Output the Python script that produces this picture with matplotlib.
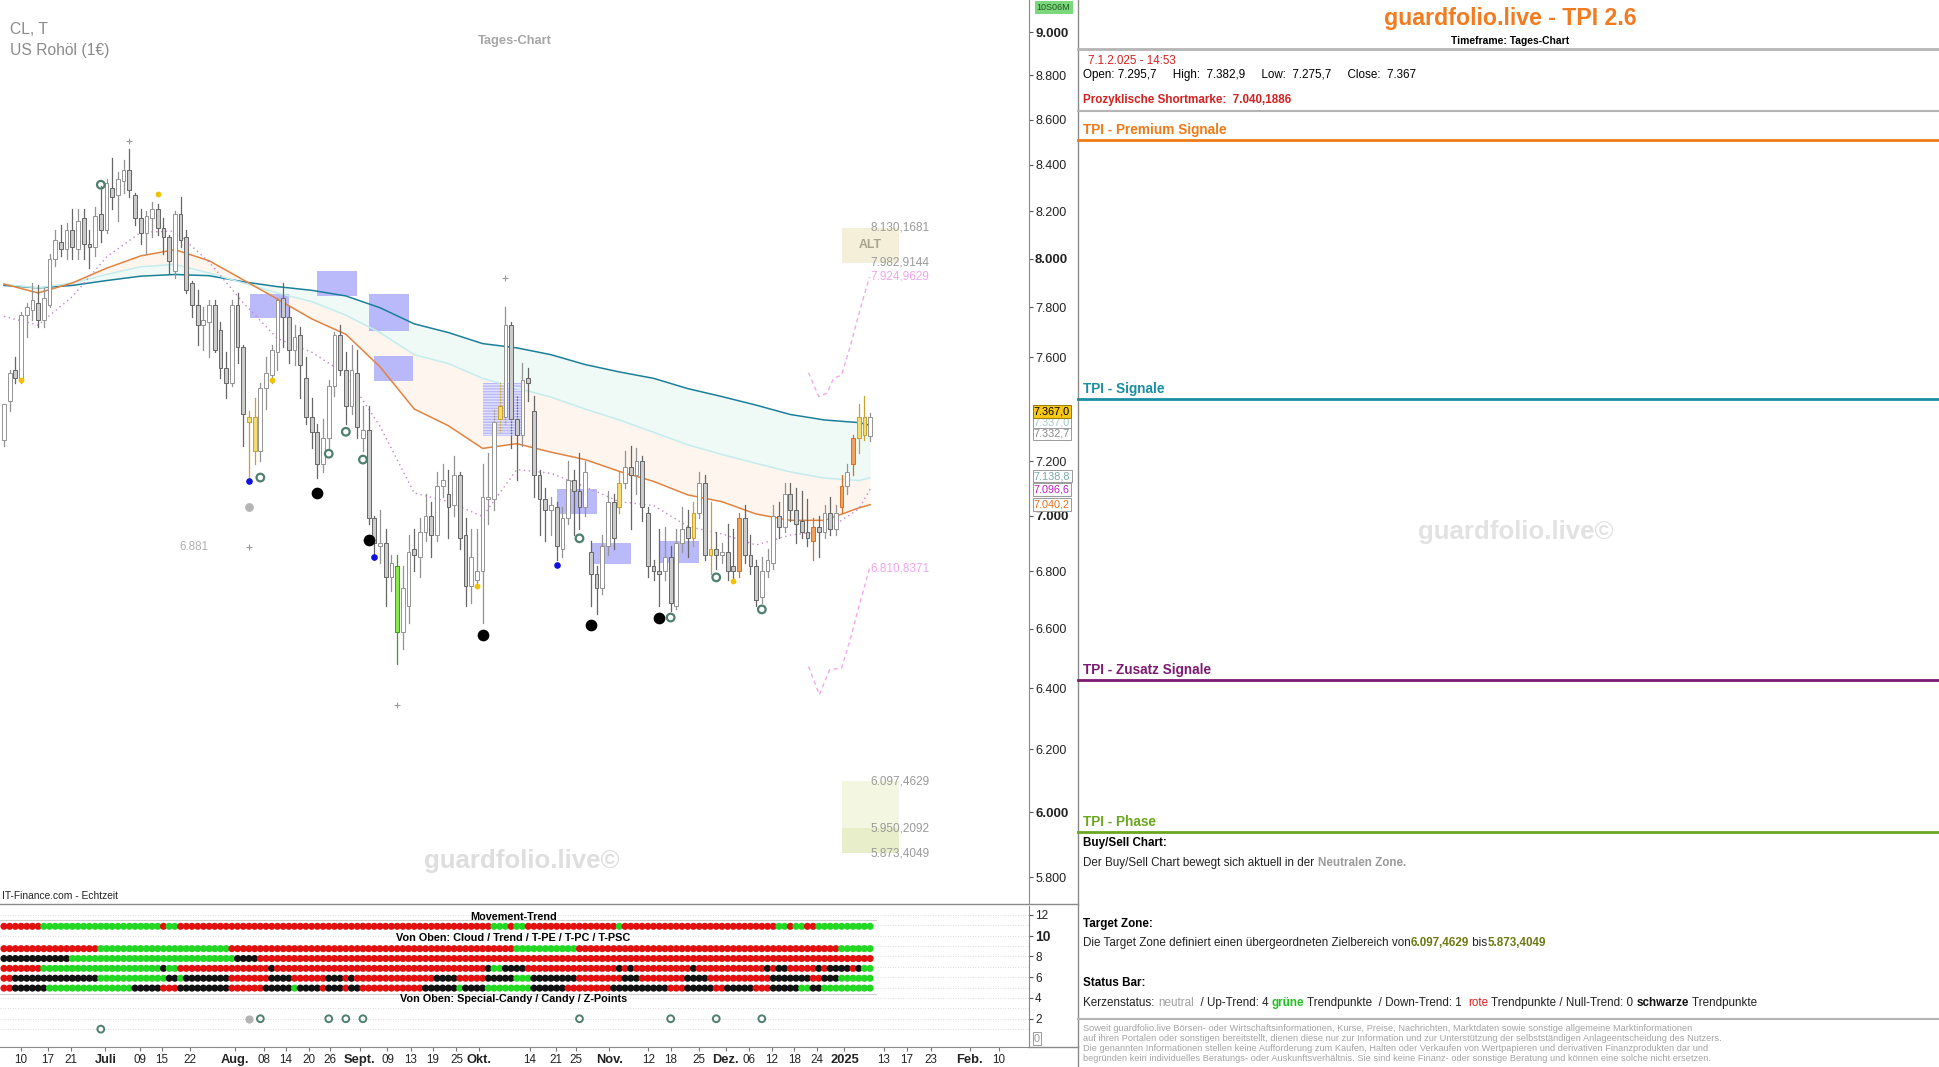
import numpy as np
import matplotlib
matplotlib.use('Agg')
import matplotlib.pyplot as plt
from matplotlib import font_manager as fm
from matplotlib.patches import Rectangle
from matplotlib.lines import Line2D

# pick a condensed sans if the system has one
names = {f.name for f in fm.fontManager.ttflist}
NARROW = 'Liberation Sans Narrow' if 'Liberation Sans Narrow' in names else 'Liberation Sans'
FS = 0.98
plt.rcParams['font.family'] = [NARROW, 'DejaVu Sans']

#---------------------------------------#
# DATA (daily candles, US crude, index 0 = first bar)
#---------------------------------------#
opens = [7280, 7430, 7550, 7510, 7770, 7790, 7820, 7750, 7810, 8000,
         8070, 8040, 8120, 8040, 8170, 8060, 8050, 8190, 8120, 8300,
         8270, 8330, 8380, 8270, 8170, 8110, 8170, 8210, 8130, 8090,
         7950, 8190, 8090, 7900, 7810, 7730, 7740, 7810, 7710, 7560,
         7500, 7810, 7640, 7370, 7370, 7240, 7480, 7530, 7620, 7840,
         7760, 7630, 7690, 7520, 7370, 7310, 7190, 7290, 7490, 7690,
         7550, 7410, 7540, 7290, 7320, 6990, 6890, 6900, 6780, 6820,
         6590, 6680, 6880, 6850, 6940, 7000, 6930, 7110, 7080, 7040,
         7150, 6930, 6750, 6770, 6800, 7060, 7060, 7360, 7370, 7730,
         7360, 7300, 7520, 7390, 7150, 7060, 7020, 7030, 6880, 6990,
         7130, 7090, 7030, 6870, 6790, 6740, 6890, 7050, 7030, 7120,
         7180, 7150, 7200, 7010, 6820, 6800, 6800, 6850, 6680, 6900,
         6960, 6920, 7010, 7120, 6860, 6880, 6860, 6870, 6820, 6800,
         6990, 6860, 6820, 6710, 6800, 6830, 7000, 6960, 7080, 7020,
         6980, 6940, 6910, 6960, 6940, 7010, 6950, 7030, 7110, 7190,
         7290, 7300, 7295.7]
highs = [7420, 7550, 7600, 7780, 7820, 7900, 7890, 7880, 8020, 8120,
         8140, 8150, 8210, 8210, 8210, 8120, 8220, 8310, 8340, 8430,
         8370, 8420, 8470, 8280, 8210, 8200, 8240, 8230, 8170, 8100,
         8200, 8260, 8120, 7910, 7870, 7800, 7830, 7830, 7740, 7620,
         7830, 7860, 7650, 7390, 7440, 7500, 7600, 7650, 7840, 7900,
         7800, 7730, 7720, 7600, 7440, 7340, 7360, 7510, 7700, 7730,
         7620, 7650, 7630, 7410, 7410, 7000, 7020, 6950, 6860, 6860,
         6820, 6930, 6950, 6990, 7080, 7050, 7160, 7190, 7170, 7220,
         7160, 6990, 6950, 6950, 7190, 7230, 7400, 7500, 7800, 7740,
         7450, 7580, 7560, 7450, 7170, 7100, 7070, 7050, 7030, 7200,
         7170, 7230, 7200, 6910, 6820, 6930, 7090, 7080, 7160, 7240,
         7260, 7250, 7220, 7030, 6840, 6950, 6960, 6890, 6950, 7030,
         7020, 7050, 7160, 7150, 7050, 6940, 6900, 6970, 6950, 7010,
         7040, 6930, 6840, 6850, 6880, 7040, 7050, 7120, 7120, 7100,
         7090, 7060, 6990, 7000, 7040, 7070, 7040, 7150, 7190, 7300,
         7420, 7450, 7382.9]
lows = [7260, 7390, 7500, 7500, 7680, 7750, 7720, 7720, 7800, 7970,
        8010, 8000, 8000, 8000, 8000, 7960, 8010, 8070, 8110, 8210,
        8160, 8280, 8260, 8140, 8060, 8020, 8090, 8100, 8020, 7940,
        7920, 8050, 7860, 7760, 7650, 7630, 7600, 7620, 7520, 7440,
        7490, 7580, 7260, 7130, 7190, 7200, 7400, 7500, 7550, 7640,
        7580, 7570, 7440, 7340, 7250, 7140, 7160, 7250, 7450, 7530,
        7340, 7380, 7290, 7240, 6970, 6840, 6830, 6680, 6730, 6480,
        6530, 6620, 6800, 6780, 6910, 6850, 6910, 7070, 6920, 7000,
        6880, 6680, 6690, 6740, 6620, 6970, 7020, 7310, 7340, 7250,
        7130, 7260, 7430, 7070, 6930, 6910, 6930, 6840, 6850, 6970,
        6930, 6950, 7000, 6680, 6650, 6720, 6860, 6880, 7010, 7100,
        6950, 7080, 6980, 6780, 6770, 6680, 6770, 6660, 6670, 6870,
        6850, 6890, 6990, 6840, 6790, 6810, 6830, 6770, 6770, 6780,
        6830, 6790, 6680, 6690, 6780, 6810, 6920, 6940, 6980, 6900,
        6920, 6890, 6840, 6850, 6920, 6930, 6930, 7010, 7080, 7150,
        7230, 7280, 7275.7]
closes = [7420, 7540, 7520, 7770, 7800, 7830, 7750, 7840, 8000, 8080,
          8040, 8120, 8050, 8160, 8060, 8050, 8180, 8120, 8320, 8260,
          8340, 8380, 8290, 8170, 8110, 8180, 8210, 8130, 8090, 7990,
          8190, 8080, 7870, 7810, 7730, 7750, 7810, 7630, 7560, 7500,
          7810, 7640, 7380, 7350, 7240, 7480, 7540, 7630, 7830, 7760,
          7630, 7680, 7570, 7370, 7310, 7190, 7290, 7490, 7690, 7550,
          7410, 7550, 7330, 7320, 6990, 6900, 6900, 6780, 6830, 6590,
          6740, 6870, 6860, 6940, 7000, 6930, 7110, 7130, 7030, 7150,
          6920, 6750, 6850, 6800, 7070, 7070, 7350, 7410, 7730, 7360,
          7300, 7510, 7500, 7150, 7060, 7020, 7040, 6890, 6990, 7130,
          7090, 7030, 7160, 6790, 6740, 6890, 7050, 6920, 7120, 7180,
          7150, 7200, 7030, 6820, 6800, 6790, 6850, 6690, 6900, 6950,
          6920, 7010, 7120, 6860, 6880, 6860, 6870, 6800, 6800, 6990,
          6860, 6820, 6700, 6800, 6840, 7000, 6960, 7080, 7020, 6970,
          6940, 6920, 6960, 6940, 7010, 6950, 7010, 7110, 7160, 7290,
          7370, 7370, 7367.0]

# bars drawn in a signal colour instead of white / grey
yellow_bars = [43, 44, 87, 108, 121, 124, 150, 151]
orange_bars = [129, 142, 147, 149]
green_bars = [69]

# moving averages read every 6 bars
line_idx = list(range(0, 151, 6)) + [152]
teal_ma = [7890, 7880, 7890, 7910, 7928, 7935, 7930, 7905, 7885, 7870, 7847, 7799, 7734, 7699,
           7655, 7638, 7611, 7572, 7543, 7518, 7478, 7447, 7414, 7378, 7357, 7347, 7337]
cyan_ma = [7895, 7880, 7900, 7935, 7967, 7977, 7941, 7900, 7859, 7824, 7769, 7699, 7611, 7576,
           7518, 7480, 7445, 7399, 7357, 7310, 7263, 7226, 7193, 7161, 7138, 7129, 7139]
orange_ma = [7896, 7859, 7900, 7961, 8012, 8038, 7992, 7913, 7834, 7754, 7692, 7563, 7399, 7335,
             7249, 7267, 7235, 7207, 7163, 7126, 7076, 7051, 7006, 6983, 6983, 7028, 7040]
pink_stop = [7764, 7729, 7844, 8007, 8111, 8116, 7987, 7819, 7675, 7621, 7534, 7333, 7083, 7051,
             6997, 7170, 7156, 7106, 7051, 7037, 6961, 6934, 6894, 6930, 6943, 7024, 7097]

# projection paths
proj_up_idx = [141.2, 143.0, 144.4, 145.6, 147.0, 148.5, 150.2, 151.9]
proj_up = [7540, 7447, 7460, 7518, 7531, 7643, 7789, 7925]
proj_dn_idx = [141.2, 143.1, 144.9, 147.0, 148.5, 150.2, 151.9]
proj_dn = [6472, 6378, 6461, 6467, 6563, 6689, 6811]

# signal zones (start bar, end bar, low, high)
zone_start = [43.1, 54.9, 64.1, 64.9, 84.1, 97.0, 103.0, 115.0]
zone_end = [50.1, 61.9, 71.1, 71.8, 90.8, 104.0, 110.0, 121.9]
zone_low = [7759, 7847, 7704, 7508, 7295, 7006, 6827, 6831]
zone_high = [7854, 7948, 7854, 7606, 7499, 7097, 6903, 6907]

alt_zone = [7982.9144, 8130.1681]
target_zone = [6097.4629, 5950.2092, 5873.4049]
proj_up_end = 7924.9629
proj_dn_end = 6810.8371

# chart markers
ring_idx = [17, 45, 57, 60, 63, 101, 117, 125, 133]
ring_px = [8314, 7140, 7229, 7312, 7207, 6918, 6639, 6779, 6667]
ring_level = [1, 2, 2, 2, 2, 2, 2, 2, 2]
black_idx = [55, 64, 84, 103, 115]
black_px = [7084, 6911, 6580, 6613, 6639]
blue_idx = [43, 65, 97]
blue_px = [7126, 6850, 6823]
yellow_idx = [3, 27, 47, 83, 128]
yellow_px = [7511, 8274, 7512, 6749, 6768]
plus_idx = [22, 88, 69, 43]
plus_px = [8506, 7920, 6343, 6886]
grey_idx = 43
grey_px = 7030

# status bar rows (colour, number of bars)
row_movement = [('r', 7), ('g', 21), ('r', 1), ('g', 2), ('r', 55), ('g', 3), ('r', 1), ('g', 2),
                ('r', 16), ('g', 1), ('r', 27), ('g', 2), ('r', 1), ('g', 2), ('r', 2), ('g', 10)]
row_cloud = [('r', 17), ('g', 23), ('r', 50), ('g', 11), ('r', 46), ('g', 6)]
row_trend = [('k', 12), ('g', 29), ('k', 4), ('r', 108)]
row_tpe = [('r', 7), ('g', 21), ('k', 1), ('g', 2), ('r', 16), ('k', 1), ('r', 37), ('k', 1),
           ('g', 2), ('k', 4), ('r', 16), ('k', 1), ('r', 1), ('k', 1), ('r', 10), ('k', 1),
           ('r', 12), ('k', 1), ('r', 1), ('k', 2), ('r', 5), ('k', 1), ('r', 1), ('k', 4),
           ('r', 1), ('k', 1), ('g', 2)]
row_tpc = [('r', 2), ('k', 15), ('g', 12), ('k', 2), ('g', 1), ('k', 8), ('r', 7), ('k', 4),
           ('r', 6), ('k', 3), ('r', 1), ('k', 1), ('r', 14), ('k', 4), ('r', 5), ('k', 5),
           ('g', 3), ('k', 8), ('r', 8), ('k', 3), ('r', 8), ('k', 4), ('r', 11), ('k', 7),
           ('r', 2), ('k', 3), ('g', 6)]
row_tpsc = [('r', 2), ('k', 6), ('g', 15), ('k', 5), ('r', 3), ('k', 9), ('r', 6), ('k', 5),
            ('g', 1), ('k', 4), ('r', 1), ('k', 3), ('r', 1), ('k', 2), ('r', 11), ('k', 6),
            ('g', 1), ('k', 4), ('g', 8), ('k', 6), ('r', 8), ('k', 10), ('r', 3), ('k', 5),
            ('r', 2), ('k', 5), ('r', 3), ('k', 5), ('g', 2), ('k', 2), ('g', 9)]

# date axis
date_pos = [3, 7.7, 11.8, 17.8, 23.9, 27.7, 32.7, 40.6, 45.6, 49.5, 53.5, 57.2, 62.4, 67.3,
            71.4, 75.3, 79.4, 83.4, 92.3, 96.8, 100.4, 106.2, 113.1, 117, 122, 126.7, 130.8,
            134.8, 138.7, 142.6, 147.5, 154.4, 158.5, 162.6, 169.5, 174.6]
date_lbl = ['10', '17', '21', 'Juli', '09', '15', '22', 'Aug.', '08', '14', '20', '26', 'Sept.',
            '09', '13', '19', '25', 'Okt.', '14', '21', '25', 'Nov.', '12', '18', '25', 'Dez.',
            '06', '12', '18', '24', '2025', '13', '17', '23', 'Feb.', '10']
month_lbl = ['Juli', 'Aug.', 'Sept.', 'Okt.', 'Nov.', 'Dez.', '2025', 'Feb.']


#---------------------------------------#
# LAYOUT HELPERS (positions measured on a 1568 x 863 preview)
#---------------------------------------#
def fx(x):
    return x / 1568.0

def fy(y):
    return 1 - y / 863.0

def de(v, dec=0):
    # german number format 7.367,0
    s = f"{v:,.{dec}f}"
    return s.replace(',', 'X').replace('.', ',').replace('X', '.')

def expand(runs):
    out = []
    for c, n in runs:
        out += [c] * n
    return out

fig = plt.figure(figsize=(19.39, 10.67), dpi=100)
renderer = fig.canvas.get_renderer()

def chain_text(x, y, parts, size):
    # write coloured pieces one after another on one line
    for s, c, w in parts:
        t = fig.text(x, y, s, color=c, fontweight=w, fontsize=size, va='center')
        x += t.get_window_extent(renderer=renderer).width / fig.bbox.width


#---------------------------------------#
# PRICE CHART
#---------------------------------------#
ax = fig.add_axes([0, fy(731), fx(832), 1 - fy(731)])
ax.set_yscale('log')
ax.set_ylim(5721, 9152)
ax.set_xlim(-0.69, 179.86)

idx = np.array(line_idx)
# ma cloud
ax.fill_between(idx, orange_ma, cyan_ma, color='#fdf3ea', alpha=0.8, lw=0, zorder=0)
ax.fill_between(idx, cyan_ma, teal_ma, color='#eefaf7', alpha=0.9, lw=0, zorder=0)
ax.plot(idx, teal_ma, color='#1b7f99', lw=1.1, zorder=2)
ax.plot(idx, cyan_ma, color='#c4ecec', lw=1.1, zorder=2)
ax.plot(idx, orange_ma, color='#e2833f', lw=1.1, zorder=2)
ax.plot(idx, pink_stop, color='#c486c4', lw=1.0, ls=(0, (1, 2.5)), zorder=2)

# signal zones
for x0, x1, lo, hi in zip(zone_start, zone_end, zone_low, zone_high):
    ax.add_patch(Rectangle((x0, lo), x1 - x0, hi - lo, fc='#aeaefb', ec='none', alpha=0.85, zorder=1))
ax.add_patch(Rectangle((zone_start[4], zone_low[4]), zone_end[4] - zone_start[4],
                       zone_high[4] - zone_low[4], fc='none', ec='white', lw=0,
                       hatch='------', zorder=4, alpha=0.6))

# candles
for i in range(len(opens)):
    o, h, l, c = opens[i], highs[i], lows[i], closes[i]
    if i in yellow_bars:
        fc, ec = '#f6dc70', '#c8a030'
    elif i in orange_bars:
        fc, ec = '#f4a15c', '#d0702a'
    elif i in green_bars:
        fc, ec = '#86ec4c', '#3c9c1c'
    elif c >= o:
        fc, ec = 'white', '#939393'
    else:
        fc, ec = '#cbcbcb', '#666666'
    ax.plot([i, i], [l, h], color=ec, lw=0.9, zorder=3)
    bot, top = min(o, c), max(o, c)
    if top - bot < 6:
        top = bot + 6
    ax.add_patch(Rectangle((i - 0.33, bot), 0.66, top - bot, fc=fc, ec=ec, lw=0.7, zorder=4))

# markers
ax.scatter(ring_idx, ring_px, s=30, facecolors='none', edgecolors='#4f7f70', linewidths=1.6, zorder=5)
ax.scatter(black_idx, black_px, s=55, color='black', zorder=5)
ax.scatter(blue_idx, blue_px, s=14, color='#1010e0', zorder=5)
ax.scatter(yellow_idx, yellow_px, s=10, color='#f2c200', zorder=5)
ax.scatter([grey_idx], [grey_px], s=28, color='#b4b4b4', zorder=5)
ax.scatter(plus_idx, plus_px, s=14, marker='+', color='#9a9a9a', linewidths=0.8, zorder=5)
ax.text(33.4, plus_px[3], '6.881', color='#b0b0b0', fontsize=8.5 * FS, va='center', ha='center')

# projections
ax.plot(proj_up_idx, proj_up, color='#f2a8ea', lw=1.0, ls=(0, (3, 2.5)), zorder=2)
ax.plot(proj_dn_idx, proj_dn, color='#f2a8ea', lw=1.0, ls=(0, (3, 2.5)), zorder=2)

# ALT zone and target zone
ax.add_patch(Rectangle((147.1, alt_zone[0]), 10, alt_zone[1] - alt_zone[0], fc='#f4efd9', ec='none', zorder=1))
ax.text(152.1, np.sqrt(alt_zone[0] * alt_zone[1]), 'ALT', color='#a9a38c', fontsize=9 * FS,
        fontweight='bold', ha='center', va='center', zorder=6)
ax.add_patch(Rectangle((147.1, target_zone[1]), 10, target_zone[0] - target_zone[1], fc='#f3f6e0', ec='none', zorder=1))
ax.add_patch(Rectangle((147.1, target_zone[2]), 10, target_zone[1] - target_zone[2], fc='#e8eec9', ec='none', zorder=1))
for v, col in [(alt_zone[1], '#9a9a9a'), (alt_zone[0], '#9a9a9a'), (proj_up_end, '#f0a6ee'),
               (proj_dn_end, '#f0a6ee'), (target_zone[0], '#9a9a9a'), (target_zone[1], '#9a9a9a'),
               (target_zone[2], '#9a9a9a')]:
    ax.text(152.1, v, de(v, 4), color=col, fontsize=8.6 * FS, va='center', ha='left', zorder=6)

# price scale
ticks = [5800, 6000, 6200, 6400, 6600, 6800, 7000, 7200, 7600, 7800, 8000, 8200, 8400, 8600, 8800, 9000]
ax.yaxis.set_minor_locator(matplotlib.ticker.NullLocator())
ax.set_yticks(ticks)
ax.set_yticklabels([de(t) for t in ticks])
ax.yaxis.tick_right()
ax.tick_params(axis='y', direction='out', length=3, pad=1.5, labelsize=9, colors='#555555',
               labelcolor='#222222')
for lab, t in zip(ax.get_yticklabels(), ticks):
    lab.set_fontfamily('Liberation Sans')
    if t % 1000 == 0:
        lab.set_fontweight('bold')
        lab.set_fontsize(9.5)
ax.set_xticks([])
for s in ['top', 'left', 'bottom']:
    ax.spines[s].set_visible(False)
ax.spines['right'].set_color('#8a8a8a')

fig.text(fx(8), fy(24), 'CL, T', color='#8a8a8a', fontsize=11.5 * FS, va='center')
fig.text(fx(8), fy(41), 'US Rohöl (1€)', color='#8a8a8a', fontsize=11.5 * FS, va='center')
fig.text(fx(416), fy(33), 'Tages-Chart', color='#a6a6a6', fontsize=9.5 * FS, fontweight='bold',
         ha='center', va='center')
fig.text(fx(2), fy(725), 'IT-Finance.com - Echtzeit', color='#222222', fontsize=7.5 * FS, va='center')
fig.text(fx(422), fy(696), 'guardfolio.live©', color='#dedede', fontsize=19 * FS, fontweight='bold',
         ha='center', va='center')


#---------------------------------------#
# STATUS BAR PANEL
#---------------------------------------#
ax2 = fig.add_axes([0, fy(847), fx(832), fy(733) - fy(847)])
ax2.set_xlim(-0.69, 179.86)
ax2.set_ylim(-0.74, 12.83)
for v in range(1, 13):
    ax2.axhline(v, color='#cfcfcf', lw=0.6, ls=(0, (1, 2)), zorder=0)
ax2.plot([-0.69, 153], [11.55, 11.55], color='#d0d0d0', lw=0.8, zorder=0)
ax2.plot([-0.69, 153], [4.35, 4.35], color='#d0d0d0', lw=0.8, zorder=0)

colors = {'r': '#e31010', 'g': '#22d822', 'k': '#111111'}
rows = [(10.9, row_movement), (8.75, row_cloud), (7.8, row_trend), (6.85, row_tpe),
        (5.9, row_tpc), (4.95, row_tpsc)]
for lvl, runs in rows:
    cs = [colors[c] for c in expand(runs)]
    ax2.scatter(np.arange(len(cs)), np.full(len(cs), lvl), s=26, c=cs, lw=0, zorder=3)

ax2.scatter(ring_idx, ring_level, s=24, facecolors='none', edgecolors='#4f7f70', linewidths=1.4, zorder=3)
ax2.scatter([grey_idx], [2], s=24, color='#b4b4b4', zorder=3)

ax2.text(89.4, 11.75, 'Movement-Trend', fontsize=8 * FS, fontweight='bold', ha='center', va='center')
ax2.text(89.4, 9.75, 'Von Oben: Cloud / Trend / T-PE / T-PC / T-PSC', fontsize=8 * FS,
         fontweight='bold', ha='center', va='center')
ax2.text(89.4, 3.9, 'Von Oben: Special-Candy / Candy / Z-Points', fontsize=8 * FS,
         fontweight='bold', ha='center', va='center')

ax2.set_yticks([2, 4, 6, 8, 10, 12])
ax2.set_yticklabels(['2', '4', '6', '8', '10', '12'])
ax2.yaxis.tick_right()
ax2.tick_params(axis='y', direction='out', length=3, pad=1.5, labelsize=8.5, colors='#555555',
                labelcolor='#222222')
for lab in ax2.get_yticklabels():
    lab.set_fontfamily('Liberation Sans')
    if lab.get_text() == '10':
        lab.set_fontweight('bold')
        lab.set_fontsize(10)
ax2.set_xticks(date_pos)
ax2.set_xticklabels(date_lbl)
ax2.tick_params(axis='x', direction='out', length=3, pad=2, labelsize=8.5 * FS, colors='#777777',
                labelcolor='#222222')
for lab in ax2.get_xticklabels():
    if lab.get_text() in month_lbl:
        lab.set_fontweight('bold')
        lab.set_fontsize(9.5 * FS)
for s in ['top', 'left']:
    ax2.spines[s].set_visible(False)
ax2.spines['right'].set_color('#8a8a8a')
ax2.spines['bottom'].set_color('#8a8a8a')

# frame lines
fig.add_artist(Line2D([0, fx(872)], [fy(731), fy(731)], color='#8a8a8a', lw=1))
fig.add_artist(Line2D([fx(832), fx(872)], [fy(847), fy(847)], color='#8a8a8a', lw=1))
fig.add_artist(Line2D([fx(872), fx(872)], [0, 1], color='#8a8a8a', lw=1))

# price tags on the scale
def tag(y, s, fc, ec, col):
    fig.text(fx(836), fy(y), s, fontsize=7.8, color=col, va='center', ha='left',
             fontfamily='Liberation Sans',
             bbox=dict(boxstyle='square,pad=0.12', fc=fc, ec=ec, lw=0.7))

tag(342, '7.337,0', 'white', '#9a9a9a', '#a8c8c8')
tag(351, '7.332,7', 'white', '#9a9a9a', '#8a8a8a')
tag(333, '7.367,0', '#f6c718', '#9a7a00', 'black')
tag(385, '7.138,8', 'white', '#9a9a9a', '#7aa8a8')
tag(396, '7.096,6', 'white', '#9a9a9a', '#c020c0')
tag(408, '7.040,2', 'white', '#9a9a9a', '#e07020')
tag(840, '0', 'white', '#9a9a9a', '#9a9a9a')
fig.text(fx(852), fy(6), '10S06M', fontsize=6.5, color='#225522', ha='center', va='center',
         fontfamily='Liberation Sans',
         bbox=dict(boxstyle='square,pad=0.25', fc='#7ad87a', ec='none'))


#---------------------------------------#
# INFO PANEL (right)
#---------------------------------------#
fig.text(fx(1221), fy(15), 'guardfolio.live - TPI 2.6', color='#f47a1e', fontsize=17 * FS,
         fontweight='bold', ha='center', va='center')
fig.text(fx(1221), fy(33), 'Timeframe: Tages-Chart', fontsize=7.5 * FS, fontweight='bold',
         ha='center', va='center')
fig.add_artist(Line2D([fx(872), 1], [fy(40), fy(40)], color='#b4b4b4', lw=2))
fig.text(fx(880), fy(49), '7.1.2.025 - 14:53', color='#d42020', fontsize=8.5 * FS, va='center')
fig.text(fx(876), fy(61), 'Open: 7.295,7     High:  7.382,9     Low:  7.275,7     Close:  7.367',
         fontsize=8.5 * FS, va='center')
fig.text(fx(876), fy(81), 'Prozyklische Shortmarke:  7.040,1886', color='#d42020',
         fontsize=8.5 * FS, fontweight='bold', va='center')
fig.add_artist(Line2D([fx(872), 1], [fy(90), fy(90)], color='#b4b4b4', lw=1.5))

sections = [(105, 113, 'TPI - Premium Signale', '#f07a16'),
            (315, 323, 'TPI - Signale', '#1b8ea3'),
            (542, 550, 'TPI - Zusatz Signale', '#7b1a70'),
            (665, 673, 'TPI - Phase', '#6aa61e')]
for ty, ly, s, col in sections:
    fig.text(fx(876), fy(ty), s, color=col, fontsize=10 * FS, fontweight='bold', va='center')
    fig.add_artist(Line2D([fx(872), 1], [fy(ly), fy(ly)], color=col, lw=2))

fig.text(fx(1226), fy(430), 'guardfolio.live©', color='#e2e2e2', fontsize=19 * FS,
         fontweight='bold', ha='center', va='center')

fig.text(fx(876), fy(682), 'Buy/Sell Chart:', fontsize=8.5 * FS, fontweight='bold', va='center')
chain_text(fx(876), fy(698), [('Der Buy/Sell Chart bewegt sich aktuell in der ', '#222222', 'normal'),
                             ('Neutralen Zone.', '#9a9a9a', 'bold')], 8.5 * FS)
fig.text(fx(876), fy(747), 'Target Zone:', fontsize=8.5 * FS, fontweight='bold', va='center')
chain_text(fx(876), fy(763), [('Die Target Zone definiert einen übergeordneten Zielbereich von', '#222222', 'normal'),
                             ('6.097,4629', '#6b7a12', 'bold'), (' bis', '#222222', 'normal'),
                             ('5.873,4049', '#6b7a12', 'bold')], 8.5 * FS)
fig.text(fx(876), fy(795), 'Status Bar:', fontsize=8.5 * FS, fontweight='bold', va='center')
chain_text(fx(876), fy(811), [('Kerzenstatus: ', '#222222', 'normal'), ('neutral', '#a0a0a0', 'normal'),
                             ('  / Up-Trend: 4 ', '#222222', 'normal'), ('grüne', '#22c022', 'bold'),
                             (' Trendpunkte  / Down-Trend: 1  ', '#222222', 'normal'),
                             ('rote', '#e02020', 'normal'),
                             (' Trendpunkte / Null-Trend: 0 ', '#222222', 'normal'),
                             ('schwarze', '#111111', 'bold'), (' Trendpunkte', '#222222', 'normal')],
           8.5 * FS)
fig.add_artist(Line2D([fx(872), 1], [fy(824), fy(824)], color='#b4b4b4', lw=1.5))

disclaimer = [
    'Soweit guardfolio.live Börsen- oder Wirtschaftsinformationen, Kurse, Preise, Nachrichten, Marktdaten sowie sonstige allgemeine Marktinformationen',
    'auf ihren Portalen oder sonstigen bereitstellt, dienen diese nur zur Information und zur Unterstützung der selbstständigen Anlageentscheidung des Nutzers.',
    'Die genannten Informationen stellen keine Aufforderung zum Kaufen, Halten oder Verkaufen von Wertpapieren und derivativen Finanzprodukten dar und',
    'begründen kein individuelles Beratungs- oder Auskunftsverhältnis. Sie sind keine Finanz- oder sonstige Beratung und können eine solche nicht ersetzen.',
]
for k, line in enumerate(disclaimer):
    fig.text(fx(876), fy(832 + 8 * k), line, color='#a4a4a4', fontsize=6.7, va='center',
             fontfamily='Liberation Sans')

fig.savefig('out.png', dpi=100)
